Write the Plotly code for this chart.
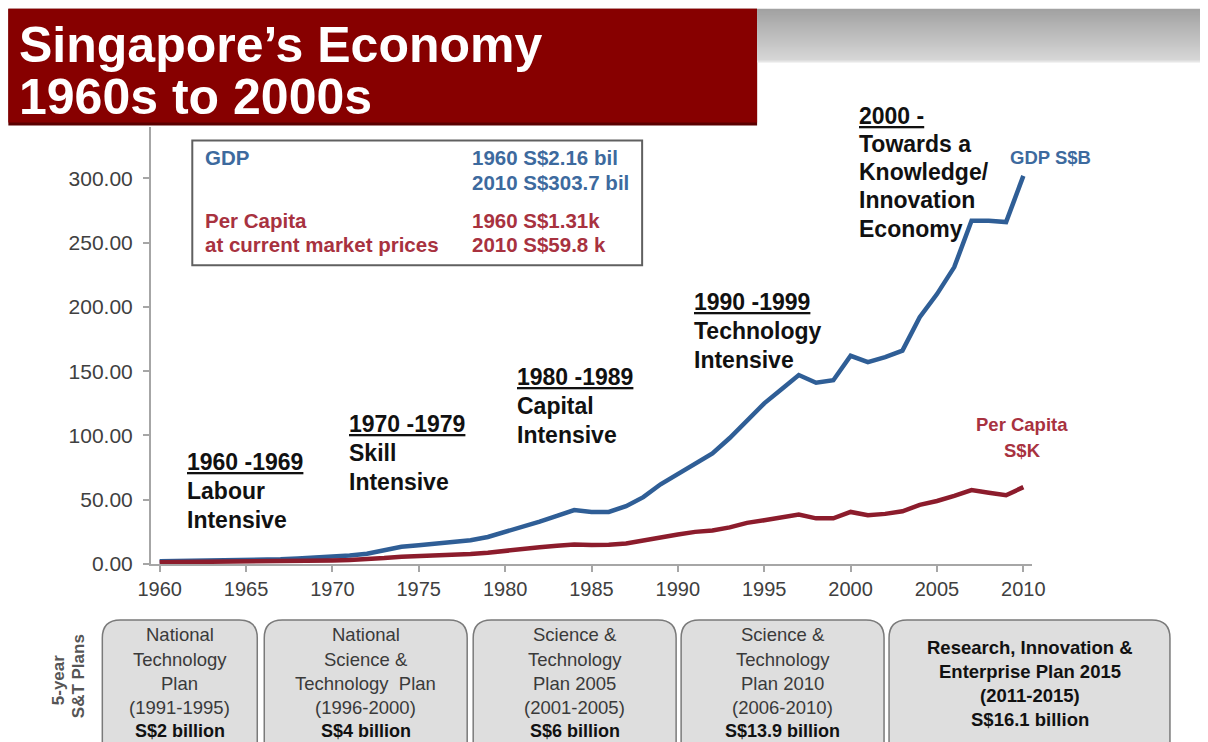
import plotly.graph_objects as go

years = list(range(1960, 2011))
gdp_sgd_bn = [2.16, 2.3, 2.5, 2.8, 2.7, 3.0, 3.3, 3.7, 4.3, 5.0,
              5.8, 6.7, 8.0, 10.5, 13.4, 14.5, 15.8, 17.3, 18.5, 21.0,
              25.0, 28.5, 33.0, 37.5, 42.0, 40.5, 40.5, 45.0, 52.0, 62.0,
              70.0, 78.0, 86.0, 98.0, 112.0, 125.0, 136.0, 147.0, 141.0, 143.0,
              162.0, 157.0, 161.0, 166.0, 192.0, 210.0, 231.0, 267.0, 267.0, 266.0,
              302.0]
per_capita_sgd_k = [1.31, 1.4, 1.5, 1.6, 1.55, 1.6, 1.75, 1.9, 2.1, 2.45,
                    2.8, 3.2, 3.7, 4.6, 5.6, 6.0, 6.4, 6.9, 7.7, 8.8,
                    10.4, 12.0, 13.0, 14.2, 15.2, 14.8, 14.9, 16.0, 18.5, 20.5,
                    23.0, 25.0, 26.0, 28.5, 32.0, 34.0, 36.0, 38.5, 35.5, 35.5,
                    40.5, 38.0, 39.0, 41.0, 46.0, 49.0, 53.0, 57.5, 55.5, 53.5,
                    59.8]
tick_years = [1960, 1965, 1970, 1975, 1980, 1985, 1990, 1995, 2000, 2005, 2010]

eras = [
    ("1960 -1969", ["Labour", "Intensive"], 185, 462),
    ("1970 -1979", ["Skill", "Intensive"], 347, 424),
    ("1980 -1989", ["Capital", "Intensive"], 515, 377),
    ("1990 -1999", ["Technology", "Intensive"], 692, 302),
    ("2000 -", ["Towards a", "Knowledge/", "Innovation", "Economy"], 857, 115),
]
plans = [
    (["National", "Technology", "Plan", "(1991-1995)"], "S$2 billion"),
    (["National", "Science &", "Technology  Plan", "(1996-2000)"], "S$4 billion"),
    (["Science &", "Technology", "Plan 2005", "(2001-2005)"], "S$6 billion"),
    (["Science &", "Technology", "Plan 2010", "(2006-2010)"], "S$13.9 billion"),
]
plan5 = ["Research, Innovation &", "Enterprise Plan 2015", "(2011-2015)", "S$16.1 billion"]

# page is offset by the 8px body margin; coordinates below are page pixels
OFF = 8
W, H = 1200, 734
PW, PH = 881.3, 437.5
ML, MT = 150.7 - OFF, 126.5 - OFF
MR = W - ML - PW
MB = H - MT - PH

def px(x):
    return (x - OFF - ML) / PW

def py(y):
    return (MT + PH - (y - OFF)) / PH

BLUE = "#2f5e96"
RED = "#8c1c2c"
BLUE_T = "#3d6a9e"
RED_T = "#a8323f"
FONT = "Liberation Sans, Arial, sans-serif"

fig = go.Figure()
fig.add_trace(go.Scatter(x=years, y=gdp_sgd_bn, mode="lines", name="GDP S$B",
                         line=dict(color=BLUE, width=4.5), showlegend=False))
fig.add_trace(go.Scatter(x=years, y=per_capita_sgd_k, mode="lines", name="Per Capita S$K",
                         line=dict(color=RED, width=4.5), showlegend=False))

shapes = []
annotations = []

# title banner
shapes.append(dict(type="rect", xref="paper", yref="paper", x0=px(8), x1=px(757), y0=py(125), y1=py(8),
                   fillcolor="#5a0000", line=dict(width=0), layer="above"))
shapes.append(dict(type="rect", xref="paper", yref="paper", x0=px(8), x1=px(757), y0=py(122), y1=py(8),
                   fillcolor="#870000", line=dict(width=0), layer="above"))
# gray gradient bar (smooth bands)
n_bands = 26
for i in range(n_bands):
    t = i / (n_bands - 1)
    v = int(round(0xa2 + t * (0xd6 - 0xa2)))
    col = f"rgb({v},{v},{v})"
    shapes.append(dict(type="rect", xref="paper", yref="paper", x0=px(757), x1=px(1215),
                       y0=py(8 + 2 * (i + 1) + 0.3), y1=py(8 + 2 * i),
                       fillcolor=col, line=dict(width=0), layer="above"))
shapes.append(dict(type="line", xref="paper", yref="paper", x0=px(757), x1=px(1215), y0=py(61), y1=py(61),
                   line=dict(color="#e6e6e6", width=2)))

annotations.append(dict(text="<b>Singapore’s Economy</b>", xref="paper", yref="paper", x=px(17), y=py(44),
                        xanchor="left", yanchor="middle", showarrow=False,
                        font=dict(family=FONT, size=50, color="white")))
annotations.append(dict(text="<b>1960s to 2000s</b>", xref="paper", yref="paper", x=px(17), y=py(96),
                        xanchor="left", yanchor="middle", showarrow=False,
                        font=dict(family=FONT, size=50, color="white")))

# info box
shapes.append(dict(type="rect", xref="paper", yref="paper", x0=px(192), x1=px(642), y0=py(265), y1=py(140),
                   fillcolor="white", line=dict(color="#606060", width=2), layer="above"))
info = [
    ("GDP", 203, 157, BLUE_T), ("1960 S$2.16 bil", 470, 157, BLUE_T), ("2010 S$303.7 bil", 470, 182, BLUE_T),
    ("Per Capita", 203, 220, RED_T), ("at current market prices", 203, 244, RED_T),
    ("1960 S$1.31k", 470, 220, RED_T), ("2010 S$59.8 k", 470, 244, RED_T),
]
for t, x, y, c in info:
    annotations.append(dict(text="<b>" + t + "</b>", xref="paper", yref="paper", x=px(x), y=py(y),
                            xanchor="left", yanchor="middle", showarrow=False,
                            font=dict(family=FONT, size=20.5, color=c)))

# era annotations
for head, lines, x, y in eras:
    step = 28.3 if head == "2000 -" else 29
    annotations.append(dict(text="<b><u>" + head + "</u></b>", xref="paper", yref="paper", x=px(x), y=py(y),
                            xanchor="left", yanchor="middle", showarrow=False,
                            font=dict(family=FONT, size=23, color="#111111")))
    for i, ln in enumerate(lines):
        annotations.append(dict(text="<b>" + ln + "</b>", xref="paper", yref="paper", x=px(x),
                                y=py(y + step * (i + 1)),
                                xanchor="left", yanchor="middle", showarrow=False,
                                font=dict(family=FONT, size=23, color="#111111")))

# series labels
annotations.append(dict(text="<b>GDP S$B</b>", xref="paper", yref="paper", x=px(1008), y=py(157),
                        xanchor="left", yanchor="middle", showarrow=False,
                        font=dict(family=FONT, size=18.5, color=BLUE_T)))
annotations.append(dict(text="<b>Per Capita</b>", xref="paper", yref="paper", x=px(1022), y=py(424),
                        xanchor="center", yanchor="middle", showarrow=False,
                        font=dict(family=FONT, size=18.5, color=RED_T)))
annotations.append(dict(text="<b>S$K</b>", xref="paper", yref="paper", x=px(1022), y=py(450),
                        xanchor="center", yanchor="middle", showarrow=False,
                        font=dict(family=FONT, size=18.5, color=RED_T)))

# plan boxes
def rounded(x0, x1, y0, y1, r):
    rx, ry = r / PW, r / PH
    X0, X1, Y0, Y1 = px(x0), px(x1), py(y1), py(y0)
    return (f"M {X0+rx},{Y1} L {X1-rx},{Y1} Q {X1},{Y1} {X1},{Y1-ry} "
            f"L {X1},{Y0+ry} Q {X1},{Y0} {X1-rx},{Y0} L {X0+rx},{Y0} "
            f"Q {X0},{Y0} {X0},{Y0+ry} L {X0},{Y1-ry} Q {X0},{Y1} {X0+rx},{Y1} Z")

boxes = [(102, 257), (264, 467), (473, 676), (681, 884), (889, 1170)]
for (x0, x1) in boxes:
    shapes.append(dict(type="path", xref="paper", yref="paper", path=rounded(x0, x1, 620, 765, 18),
                       fillcolor="#dedede", line=dict(color="#7a7a7a", width=1.5), layer="above"))

for (lines, money), (x0, x1) in zip(plans, boxes[:4]):
    cx = (x0 + x1) / 2
    for i, ln in enumerate(lines):
        annotations.append(dict(text=ln, xref="paper", yref="paper", x=px(cx), y=py(635 + 24.3 * i),
                                xanchor="center", yanchor="middle", showarrow=False,
                                font=dict(family=FONT, size=18.5, color="#3a3a3a")))
    annotations.append(dict(text="<b>" + money + "</b>", xref="paper", yref="paper", x=px(cx), y=py(731),
                            xanchor="center", yanchor="middle", showarrow=False,
                            font=dict(family=FONT, size=18, color="#111111")))
cx5 = (boxes[4][0] + boxes[4][1]) / 2
for i, ln in enumerate(plan5):
    annotations.append(dict(text="<b>" + ln + "</b>", xref="paper", yref="paper", x=px(cx5), y=py(648 + 24 * i),
                            xanchor="center", yanchor="middle", showarrow=False,
                            font=dict(family=FONT, size=18.5, color="#111111")))

annotations.append(dict(text="<b>5-year</b>", xref="paper", yref="paper", x=px(59), y=py(680),
                        xanchor="center", yanchor="middle", showarrow=False, textangle=-90,
                        font=dict(family=FONT, size=17, color="#555555")))
annotations.append(dict(text="<b>S&T Plans</b>", xref="paper", yref="paper", x=px(79), y=py(676),
                        xanchor="center", yanchor="middle", showarrow=False, textangle=-90,
                        font=dict(family=FONT, size=17, color="#555555")))

fig.update_layout(
    width=W, height=H,
    margin=dict(l=ML, r=MR, t=MT, b=MB, pad=0),
    paper_bgcolor="white", plot_bgcolor="white",
    shapes=shapes, annotations=annotations, showlegend=False,
    xaxis=dict(range=[1959.5, 2010.5], tickmode="array", tickvals=tick_years,
               ticktext=[str(t) for t in tick_years], showgrid=False, zeroline=False,
               showline=True, linecolor="#a6a6a6", linewidth=2, ticks="outside", ticklen=6,
               tickcolor="#a6a6a6", tickwidth=1.5, ticklabelstandoff=0,
               tickfont=dict(family=FONT, size=20, color="#404040")),
    yaxis=dict(range=[0, 340], tickmode="array", tickvals=[0, 50, 100, 150, 200, 250, 300],
               tickformat=".2f", showgrid=False, zeroline=False,
               showline=True, linecolor="#a6a6a6", linewidth=2, ticks="outside", ticklen=6,
               tickcolor="#a6a6a6", tickwidth=1.5, ticklabelstandoff=6,
               tickfont=dict(family=FONT, size=21, color="#404040")),
)

fig.write_html("out.html")
